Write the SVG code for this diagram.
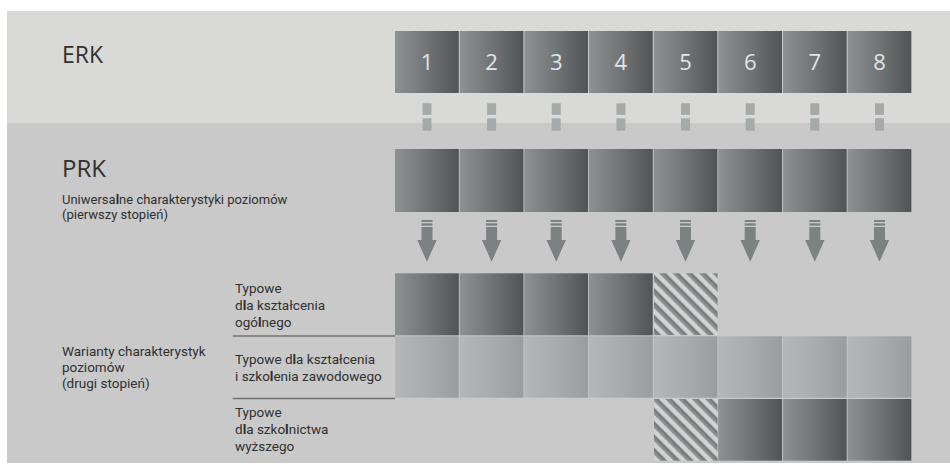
<svg xmlns="http://www.w3.org/2000/svg" width="950" height="472" viewBox="0 0 950 472">
<defs>
<style>
text{font-family:"Open Sans","Noto Sans","Liberation Sans",sans-serif;fill:#303030}
.h{font-size:23px}
.s{font-family:Roboto,"Liberation Sans",sans-serif;font-size:13px}
.t{font-family:Roboto,"Liberation Sans",sans-serif;font-size:13.5px}
.n{font-size:22px;fill:#e3e4e4;text-anchor:middle}
.b{font-weight:700}
.dk{fill:url(#gDark)}
.lt{fill:url(#gLight)}
.ht{fill:url(#hatch)}
.con{fill:#a6a9a9}
.arr{fill:#7e8182}
.sep{stroke:#6f7171;stroke-width:1.5;fill:none}
</style>
<linearGradient id="gDark" x1="0" y1="0" x2="1" y2="0">
<stop offset="0" stop-color="#8e9192"/>
<stop offset="0.5" stop-color="#707475"/>
<stop offset="1" stop-color="#505455"/>
</linearGradient>
<linearGradient id="gLight" x1="0" y1="0" x2="1" y2="0">
<stop offset="0" stop-color="#b4b6b7"/>
<stop offset="0.5" stop-color="#a9abac"/>
<stop offset="1" stop-color="#9a9c9d"/>
</linearGradient>
<linearGradient id="gStripe" x1="0" y1="0" x2="1" y2="0">
<stop offset="0" stop-color="#9a9d9e"/>
<stop offset="1" stop-color="#6a6e6f"/>
</linearGradient>
<pattern id="hatch" patternUnits="userSpaceOnUse" width="9.4" height="9.4" patternTransform="rotate(-45)">
<rect x="0" y="0" width="9.4" height="9.4" fill="#d2d3d2"/>
<rect x="0" y="0" width="5" height="9.4" fill="url(#gStripe)"/>
</pattern>
</defs>

<g id="background">
<rect x="7" y="11" width="943" height="112" fill="#d9dad8"/>
<rect x="7" y="123" width="943" height="340" fill="#c8c9c8"/>
</g>

<g id="labels">
<text class="h" x="62" y="63">ERK</text>
<text class="h" x="62" y="177" style="font-size:24px">PRK</text>
<text class="s" x="62" y="204">Uniwersa<tspan class="b">l</tspan>ne charakterystyki poziomów</text>
<text class="s" x="62" y="219.4">(pierwszy stopień)</text>
<text class="t" x="62" y="356">Warianty charakterystyk</text>
<text class="t" x="62" y="372">poziomów</text>
<text class="t" x="62" y="388">(drugi stopień)</text>
</g>

<g id="erk">
<g id="erk-1"><rect class="dk" x="395" y="31" width="63.8" height="62"/><text class="n" x="427" y="70">1</text></g>
<g id="erk-2"><rect class="dk" x="459.65" y="31" width="63.8" height="62"/><text class="n" x="491.6" y="70">2</text></g>
<g id="erk-3"><rect class="dk" x="524.3" y="31" width="63.8" height="62"/><text class="n" x="556.2" y="70">3</text></g>
<g id="erk-4"><rect class="dk" x="588.95" y="31" width="63.8" height="62"/><text class="n" x="620.9" y="70">4</text></g>
<g id="erk-5"><rect class="dk" x="653.6" y="31" width="63.8" height="62"/><text class="n" x="685.5" y="70">5</text></g>
<g id="erk-6"><rect class="dk" x="718.25" y="31" width="63.8" height="62"/><text class="n" x="750.2" y="70">6</text></g>
<g id="erk-7"><rect class="dk" x="782.9" y="31" width="63.8" height="62"/><text class="n" x="814.8" y="70">7</text></g>
<g id="erk-8"><rect class="dk" x="847.55" y="31" width="63.8" height="62"/><text class="n" x="879.5" y="70">8</text></g>
</g>

<g id="prk">
<rect id="prk-1" class="dk" x="395" y="149" width="63.8" height="63"/>
<rect id="prk-2" class="dk" x="459.65" y="149" width="63.8" height="63"/>
<rect id="prk-3" class="dk" x="524.3" y="149" width="63.8" height="63"/>
<rect id="prk-4" class="dk" x="588.95" y="149" width="63.8" height="63"/>
<rect id="prk-5" class="dk" x="653.6" y="149" width="63.8" height="63"/>
<rect id="prk-6" class="dk" x="718.25" y="149" width="63.8" height="63"/>
<rect id="prk-7" class="dk" x="782.9" y="149" width="63.8" height="63"/>
<rect id="prk-8" class="dk" x="847.55" y="149" width="63.8" height="63"/>
</g>

<g id="connectors">
<g id="links-erk-prk">
<rect class="con" x="422.5" y="103.3" width="9" height="11.5"/><rect class="con" x="422.5" y="118.3" width="9" height="12.4"/>
<rect class="con" x="487.1" y="103.3" width="9" height="11.5"/><rect class="con" x="487.1" y="118.3" width="9" height="12.4"/>
<rect class="con" x="551.7" y="103.3" width="9" height="11.5"/><rect class="con" x="551.7" y="118.3" width="9" height="12.4"/>
<rect class="con" x="616.4" y="103.3" width="9" height="11.5"/><rect class="con" x="616.4" y="118.3" width="9" height="12.4"/>
<rect class="con" x="681" y="103.3" width="9" height="11.5"/><rect class="con" x="681" y="118.3" width="9" height="12.4"/>
<rect class="con" x="745.7" y="103.3" width="9" height="11.5"/><rect class="con" x="745.7" y="118.3" width="9" height="12.4"/>
<rect class="con" x="810.3" y="103.3" width="9" height="11.5"/><rect class="con" x="810.3" y="118.3" width="9" height="12.4"/>
<rect class="con" x="875" y="103.3" width="9" height="11.5"/><rect class="con" x="875" y="118.3" width="9" height="12.4"/>
</g>
<g id="arrows">
<g transform="translate(427,0)"><rect class="arr" x="-5.5" y="220" width="11" height="2"/><rect class="arr" x="-5.5" y="223.3" width="11" height="2.4"/><rect class="arr" x="-5.5" y="227" width="11" height="13.5"/><polygon class="arr" points="-9.7,240 9.7,240 0,261.7"/></g>
<g transform="translate(491.6,0)"><rect class="arr" x="-5.5" y="220" width="11" height="2"/><rect class="arr" x="-5.5" y="223.3" width="11" height="2.4"/><rect class="arr" x="-5.5" y="227" width="11" height="13.5"/><polygon class="arr" points="-9.7,240 9.7,240 0,261.7"/></g>
<g transform="translate(556.2,0)"><rect class="arr" x="-5.5" y="220" width="11" height="2"/><rect class="arr" x="-5.5" y="223.3" width="11" height="2.4"/><rect class="arr" x="-5.5" y="227" width="11" height="13.5"/><polygon class="arr" points="-9.7,240 9.7,240 0,261.7"/></g>
<g transform="translate(620.9,0)"><rect class="arr" x="-5.5" y="220" width="11" height="2"/><rect class="arr" x="-5.5" y="223.3" width="11" height="2.4"/><rect class="arr" x="-5.5" y="227" width="11" height="13.5"/><polygon class="arr" points="-9.7,240 9.7,240 0,261.7"/></g>
<g transform="translate(685.5,0)"><rect class="arr" x="-5.5" y="220" width="11" height="2"/><rect class="arr" x="-5.5" y="223.3" width="11" height="2.4"/><rect class="arr" x="-5.5" y="227" width="11" height="13.5"/><polygon class="arr" points="-9.7,240 9.7,240 0,261.7"/></g>
<g transform="translate(750.2,0)"><rect class="arr" x="-5.5" y="220" width="11" height="2"/><rect class="arr" x="-5.5" y="223.3" width="11" height="2.4"/><rect class="arr" x="-5.5" y="227" width="11" height="13.5"/><polygon class="arr" points="-9.7,240 9.7,240 0,261.7"/></g>
<g transform="translate(814.8,0)"><rect class="arr" x="-5.5" y="220" width="11" height="2"/><rect class="arr" x="-5.5" y="223.3" width="11" height="2.4"/><rect class="arr" x="-5.5" y="227" width="11" height="13.5"/><polygon class="arr" points="-9.7,240 9.7,240 0,261.7"/></g>
<g transform="translate(879.5,0)"><rect class="arr" x="-5.5" y="220" width="11" height="2"/><rect class="arr" x="-5.5" y="223.3" width="11" height="2.4"/><rect class="arr" x="-5.5" y="227" width="11" height="13.5"/><polygon class="arr" points="-9.7,240 9.7,240 0,261.7"/></g>
</g>
</g>

<g id="row-general">
<text class="t" x="235" y="293.3">Typowe</text>
<text class="t" x="235" y="310">d<tspan class="b">l</tspan>a kształcenia</text>
<text class="t" x="235" y="326.7">ogó<tspan class="b">l</tspan>nego</text>
<line class="sep" x1="232.7" y1="336" x2="395" y2="336"/>
<rect id="gen-1" class="dk" x="395" y="273.3" width="63.8" height="62"/>
<rect id="gen-2" class="dk" x="459.65" y="273.3" width="63.8" height="62"/>
<rect id="gen-3" class="dk" x="524.3" y="273.3" width="63.8" height="62"/>
<rect id="gen-4" class="dk" x="588.95" y="273.3" width="63.8" height="62"/>
<rect id="gen-5" class="ht" x="654" y="273.3" width="63.6" height="61.7"/>
</g>

<g id="row-vocational">
<text class="t" x="235" y="364.3">Typowe d<tspan class="b">l</tspan>a kształcenia</text>
<text class="t" x="235" y="380.7">i szko<tspan class="b">l</tspan>enia zawodowego</text>
<line class="sep" x1="232.7" y1="398.4" x2="395" y2="398.4"/>
<rect id="voc-1" class="lt" x="395" y="336.3" width="63.8" height="61.4"/>
<rect id="voc-2" class="lt" x="459.65" y="336.3" width="63.8" height="61.4"/>
<rect id="voc-3" class="lt" x="524.3" y="336.3" width="63.8" height="61.4"/>
<rect id="voc-4" class="lt" x="588.95" y="336.3" width="63.8" height="61.4"/>
<rect id="voc-5" class="lt" x="653.6" y="336.3" width="63.8" height="61.4"/>
<rect id="voc-6" class="lt" x="718.25" y="336.3" width="63.8" height="61.4"/>
<rect id="voc-7" class="lt" x="782.9" y="336.3" width="63.8" height="61.4"/>
<rect id="voc-8" class="lt" x="847.55" y="336.3" width="63.8" height="61.4"/>
</g>

<g id="row-higher">
<text class="t" x="235" y="416.7">Typowe</text>
<text class="t" x="235" y="434">d<tspan class="b">l</tspan>a szko<tspan class="b">l</tspan>nictwa</text>
<text class="t" x="235" y="450.7">wyższego</text>
<rect id="high-5" class="ht" x="654" y="399" width="63.6" height="61.7"/>
<rect id="high-6" class="dk" x="718.25" y="399" width="63.8" height="61.7"/>
<rect id="high-7" class="dk" x="782.9" y="399" width="63.8" height="61.7"/>
<rect id="high-8" class="dk" x="847.55" y="399" width="63.8" height="61.7"/>
</g>
</svg>
